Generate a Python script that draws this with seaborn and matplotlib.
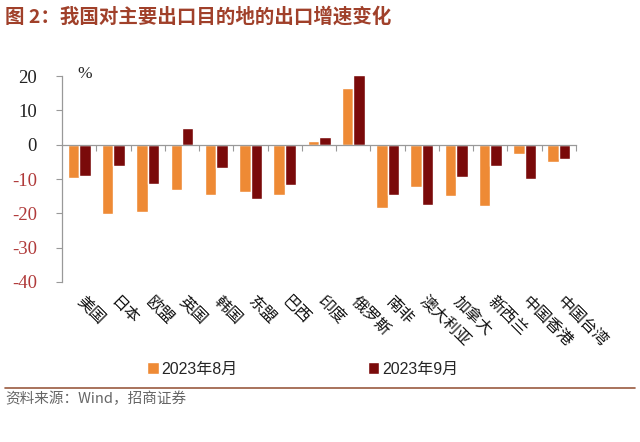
import matplotlib
matplotlib.use("Agg")
import matplotlib.pyplot as plt
import matplotlib.transforms as mtransforms
from matplotlib.patches import Patch
import seaborn as sns
import pandas as pd
import numpy as np

regions = ["美国", "日本", "欧盟", "英国", "韩国", "东盟", "巴西", "印度", "俄罗斯",
           "南非", "澳大利亚", "加拿大", "新西兰", "中国香港", "中国台湾"]
aug = [-9.7, -20.2, -19.7, -13.1, -14.6, -13.8, -14.6, 1.0, 16.5,
       -18.3, -12.4, -14.9, -18.0, -2.6, -5.0]
sep = [-9.2, -6.3, -11.5, 5.0, -6.9, -15.7, -11.8, 2.1, 20.2,
       -14.7, -17.7, -9.3, -6.1, -10.1, -4.1]
series = ["2023年8月", "2023年9月"]
yticks = [20, 10, 0, -10, -20, -30, -40]

df = pd.DataFrame({
    "region": regions * 2,
    "value": aug + sep,
    "month": [series[0]] * len(regions) + [series[1]] * len(regions),
})

sns.set_theme(style="white")
plt.rcParams["font.family"] = ["Noto Sans CJK SC", "DejaVu Sans"]

fig = plt.figure(figsize=(6.4, 4.42), dpi=100)
fig.patch.set_facecolor("white")
ax = fig.add_axes([0.097, 0.362, 0.803, 0.466])

orange = "#EE8A35"
dark = "#7A0A0A"
sns.barplot(data=df, x="region", y="value", hue="month", order=regions,
            hue_order=series, palette=[orange, dark], width=0.67,
            saturation=1, ax=ax, legend=False)

ax.set_ylim(-40, 20)
ax.set_xlim(-0.5, len(regions) - 0.5)
ax.set_yticks(yticks)
ax.set_yticklabels([str(v) for v in yticks], family="Liberation Serif", fontsize=13.5)
for lbl, v in zip(ax.get_yticklabels(), yticks):
    lbl.set_color("#B03A3A" if v < 0 else "#222222")
ax.tick_params(axis="y", length=4, width=0.8, color="#999999", direction="out", left=True, pad=14)
ax.set_xlabel("")
ax.set_ylabel("")

for s in ["top", "right"]:
    ax.spines[s].set_visible(False)
ax.spines["left"].set_color("#999999")
ax.spines["left"].set_linewidth(0.9)
ax.spines["bottom"].set_position(("data", 0))
ax.spines["bottom"].set_color("#999999")
ax.spines["bottom"].set_linewidth(0.9)

ax.set_xticks(np.arange(len(regions)) + 0.5)
ax.set_xticklabels([])
ax.tick_params(axis="x", length=4, width=0.8, color="#999999", direction="out", bottom=True)

trans = mtransforms.blended_transform_factory(ax.transData, ax.transAxes)
for i, r in enumerate(regions):
    ax.text(i, -0.083, r, transform=trans, rotation=-45, rotation_mode="anchor",
            ha="left", va="center", fontsize=11.5, color="#111111")

ax.text(0.03, 1.01, "%", transform=ax.transAxes, fontsize=12.5, family="Liberation Serif",
        ha="left", va="center")

# title
fig.text(0.008, 0.962, "图 2：我国对主要出口目的地的出口增速变化", fontsize=14,
         color="#A0402A", fontweight="bold", ha="left", va="center")

# legend
handles = [Patch(facecolor=orange, label=series[0]), Patch(facecolor=dark, label=series[1])]
fig.legend(handles=handles, loc="center", bbox_to_anchor=(0.473, 0.165), ncol=2,
           frameon=False, handlelength=0.7, handleheight=0.8,
           handletextpad=0.15, columnspacing=8.2,
           prop={"family": ["Liberation Sans", "Noto Sans CJK SC"], "size": 11.5})

# separator line and source
fig.add_artist(plt.Line2D([0.008, 0.992], [0.122, 0.122], color="#9A5A40", linewidth=1.2,
                          transform=fig.transFigure))
fig.text(0.008, 0.097, "资料来源：Wind，招商证券", fontsize=10.5, color="#666666",
         ha="left", va="center")

fig.savefig("out.png", dpi=100, facecolor="white")
